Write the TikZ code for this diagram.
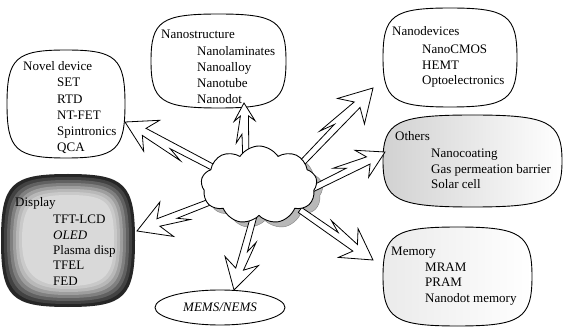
\documentclass[tikz,border=0pt]{standalone}
\usepackage{fontspec}
\setmainfont{Liberation Serif}
\usetikzlibrary{calc,shapes.symbols,shapes.geometric}
\tikzset{
  zarr/.style={draw=black, line width=0.8pt, fill=white, line join=miter},
  blobline/.style={draw=black, line width=0.9pt},
  ttl/.style={anchor=base west, inner sep=0pt, font=\fontsize{13}{15.5}\selectfont},
  itm/.style={anchor=base west, inner sep=0pt, font=\fontsize{13}{15.5}\selectfont},
  cloudbase/.style={cloud, cloud puffs=9, cloud puff arc=115, aspect=1.45, minimum width=116pt, minimum height=78pt},
}
% blob: [style]{l}{b}{r}{t}
\newcommand\blob[5][blobline]{%
  \pgfmathsetmacro\bcx{(#2+#4)/2}\pgfmathsetmacro\bcy{(#3+#5)/2}%
  \pgfmathsetmacro\bl{#2+0.15*(\bcx-#2)}\pgfmathsetmacro\br{#4-0.15*(#4-\bcx)}%
  \pgfmathsetmacro\bb{#3+0.15*(\bcy-#3)}\pgfmathsetmacro\bt{#5-0.15*(#5-\bcy)}%
  \path[#1] (#2,\bcy) .. controls (#2,\bt) and (\bl,#5) .. (\bcx,#5)
     .. controls (\br,#5) and (#4,\bt) .. (#4,\bcy)
     .. controls (#4,\bb) and (\br,#3) .. (\bcx,#3)
     .. controls (\bl,#3) and (#2,\bb) .. cycle;}
% zigzag arrow: [head length]{start}{tip}
\newcommand\zarrow[3][28]{%
  \pgfmathsetmacro\hl{#1}\pgfmathsetmacro\hw{0.58*#1}\pgfmathsetmacro\hn{0.72*#1}%
  \draw[zarr] ($(#2)!3pt!90:(#3)$) -- ($(#2)!0.5!(#3)!3pt!90:(#3)$)
    -- ($(#2)!0.36!(#3)!9pt!90:(#3)$) -- ($(#3)!\hn pt!(#2)!4pt!-90:(#2)$)
    -- ($(#3)!\hl pt!(#2)!\hw pt!-90:(#2)$) -- (#3)
    -- ($(#3)!\hl pt!(#2)!\hw pt!90:(#2)$) -- ($(#3)!\hn pt!(#2)!4pt!90:(#2)$)
    -- ($(#2)!3pt!-90:(#3)$) -- cycle;}
% item list: {prefix}{x}{first baseline}{spacing}{list}
\newcommand\itemlist[5]{%
  \foreach \t [count=\k from 0] in {#5} {
    \node[itm] (#1\k) at (#2,{#3-\k*#4}) {\t};
  }}
\begin{document}
\begin{tikzpicture}[x=1pt,y=1pt]
\useasboundingbox (0,0) rectangle (564,329);
\fill[white] (0,0) rectangle (564,329);
% boxes
\blob{151}{221}{286}{315}
\blob{383}{222}{517}{321}
\blob{7}{171}{125}{279}
\blob[blobline, left color=black!18, middle color=white, right color=white]{383}{122}{562}{214}
\blob[blobline, left color=black!8, middle color=white, right color=white]{383}{3}{532}{102}
\foreach \i/\c in {0/85,1/74,2/62,3/50,4/38,5/28,6/21,7/15} {
  \pgfmathsetmacro\ins{\i*3}
  \blob[fill=black!\c]{1+\ins}{22+\ins}{135-\ins}{155-\ins}
}
\node[draw, ellipse, line width=0.9pt, minimum width=130pt, minimum height=35pt, inner sep=0pt] (mems) at (220,21.5) {};
\node[font=\fontsize{13}{15.5}\selectfont\itshape] (memst) at (220,21.5) {MEMS/NEMS};
% texts
\node[ttl] (nst) at (161,290) {Nanostructure};
\itemlist{nsi}{197}{273}{15.7}{Nanolaminates,Nanoalloy,Nanotube,Nanodot}
\node[ttl] (ndt) at (392,293) {Nanodevices};
\itemlist{ndi}{422}{275}{15.5}{NanoCMOS,HEMT,Optoelectronics}
\node[ttl] (nvt) at (23,258) {Novel device};
\itemlist{nvi}{57}{242}{16.2}{SET,RTD,NT-FET,Spintronics,QCA}
\node[ttl] (ott) at (395,188) {Others};
\itemlist{oti}{431}{171}{15.5}{Nanocoating,Gas permeation barrier,Solar cell}
\node[ttl] (dst) at (15,122) {Display};
\itemlist{dsi}{53}{105}{15.3}{TFT-LCD,\textit{OLED},Plasma disp,TFEL,FED}
\node[ttl] (mmt) at (391,73) {Memory};
\itemlist{mmi}{425}{57}{15}{MRAM,PRAM,Nanodot memory}
% cloud shadow
\node[cloudbase, fill=black!28, draw=black!50] (cloudsh) at (265,139) {};
% arrow endpoints
\coordinate (s1) at (218,159); \coordinate (t1) at (125,207);
\coordinate (s2) at (246,164); \coordinate (t2) at (244,226);
\coordinate (s3) at (300,164); \coordinate (t3) at (373,241);
\coordinate (s4) at (310,139); \coordinate (t4) at (385,177);
\coordinate (s5) at (215,129); \coordinate (t5) at (137,98);
\coordinate (s6) at (255,117); \coordinate (t6) at (234,39);
\coordinate (s7) at (300,119); \coordinate (t7) at (373,69);
\zarrow[30]{s1}{t1}
\zarrow[18]{s2}{t2}
\zarrow[32]{s3}{t3}
\zarrow[26]{s4}{t4}
\zarrow[32]{s5}{t5}
\zarrow[30]{s6}{t6}
\zarrow[30]{s7}{t7}
% cloud
\node[cloudbase, draw, fill=white, line width=0.9pt] (cloud) at (259,144) {};
\end{tikzpicture}
\end{document}
